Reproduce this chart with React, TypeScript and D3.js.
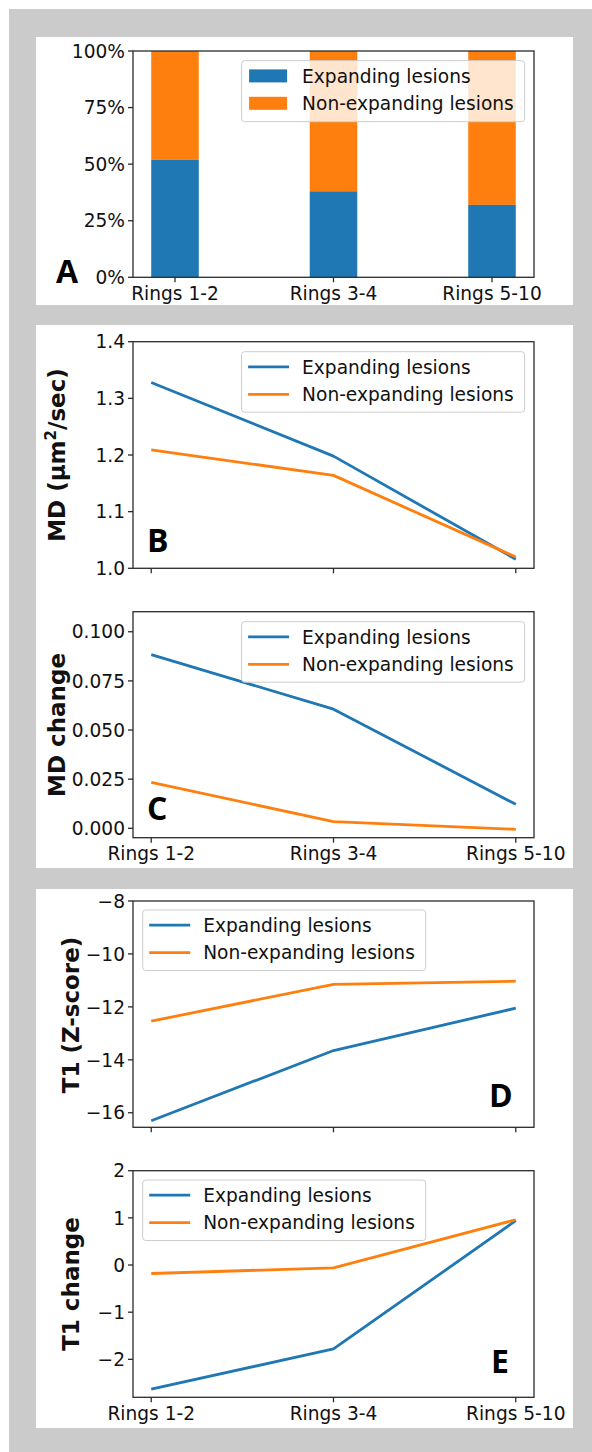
import React from "react";
import * as d3 from "d3";

const categories = ["Rings 1-2", "Rings 3-4", "Rings 5-10"];
const seriesNames = ["Expanding lesions", "Non-expanding lesions"];
const seriesColors = ["#1f77b4", "#ff7f0e"];

const expandingShare = [0.52, 0.38, 0.32];

const mdExpanding = [1.328, 1.198, 1.016];
const mdNonExpanding = [1.209, 1.164, 1.02];

const mdChangeExpanding = [0.0884, 0.0606, 0.0122];
const mdChangeNonExpanding = [0.0234, 0.0034, -0.0005];

const t1Expanding = [-16.3, -13.65, -12.05];
const t1NonExpanding = [-12.54, -11.15, -11.03];

const t1ChangeExpanding = [-2.63, -1.78, 0.94];
const t1ChangeNonExpanding = [-0.18, -0.06, 0.96];

const pctTicks = [0, 0.25, 0.5, 0.75, 1];
const mdTicks = [1.0, 1.1, 1.2, 1.3, 1.4];
const mdChangeTicks = [0, 0.025, 0.05, 0.075, 0.1];
const t1Ticks = [-16, -14, -12, -10, -8];
const t1ChangeTicks = [-2, -1, 0, 1, 2];

const FONT = "'DejaVu Sans', sans-serif";
const LABEL_FONT = "'Liberation Sans Narrow', 'Open Sans', 'Liberation Sans', sans-serif";
const AX = "#2b2b2b";
const PL = 133;
const PR = 534;
const TICK_FS = 18.6;
const LEG_FS = 18.6;

type LegendProps = { x: number; y: number; w: number; h: number; kind: "rect" | "line" };

function Legend({ x, y, w, h, kind }: LegendProps) {
  return (
    <g>
      <rect x={x} y={y} width={w} height={h} rx={3} fill="white" fillOpacity={0.8} stroke="#cccccc" strokeWidth={1} />
      {seriesNames.map((name, i) => {
        const cy = y + 15.2 + i * 27.4;
        return (
          <g key={name}>
            {kind === "rect" ? (
              <rect x={x + 7.5} y={cy - 6.5} width={38} height={13} fill={seriesColors[i]} />
            ) : (
              <line x1={x + 6.5} x2={x + 47.5} y1={cy} y2={cy} stroke={seriesColors[i]} strokeWidth={2.8} />
            )}
            <text x={x + 60.5} y={cy} dy="0.36em" fontSize={LEG_FS} fontFamily={FONT} fill="#111">
              {name}
            </text>
          </g>
        );
      })}
    </g>
  );
}

type YAxisProps = {
  y: d3.ScaleLinear<number, number>;
  ticks: number[];
  fmt: (v: number) => string;
};

function YAxis({ y, ticks, fmt }: YAxisProps) {
  return (
    <g>
      {ticks.map((t) => (
        <g key={t}>
          <line x1={PL - 5} x2={PL} y1={y(t)} y2={y(t)} stroke={AX} strokeWidth={1.3} />
          <text x={PL - 8} y={y(t)} dy="0.36em" textAnchor="end" fontSize={TICK_FS} fontFamily={FONT} fill="#111">
            {fmt(t)}
          </text>
        </g>
      ))}
    </g>
  );
}

type XAxisProps = {
  x: (i: number) => number;
  bottom: number;
  showLabels: boolean;
};

function XAxis({ x, bottom, showLabels }: XAxisProps) {
  return (
    <g>
      {categories.map((c, i) => (
        <g key={c}>
          <line x1={x(i)} x2={x(i)} y1={bottom} y2={bottom + 5} stroke={AX} strokeWidth={1.3} />
          {showLabels && (
            <text x={x(i)} y={bottom + 16} dy="0.36em" textAnchor="middle" fontSize={TICK_FS} fontFamily={FONT} fill="#111">
              {c}
            </text>
          )}
        </g>
      ))}
    </g>
  );
}

function Frame({ top, bottom }: { top: number; bottom: number }) {
  return <rect x={PL} y={top} width={PR - PL} height={bottom - top} fill="none" stroke={AX} strokeWidth={1.3} />;
}

function YLabel({ x, cy, children }: { x: number; cy: number; children: React.ReactNode }) {
  return (
    <text
      transform={`translate(${x},${cy}) rotate(-90)`}
      textAnchor="middle"
      fontSize={23}
      fontWeight="bold"
      fontFamily={FONT}
      fill="#111"
    >
      {children}
    </text>
  );
}

function PanelLetter({ x, y, t }: { x: number; y: number; t: string }) {
  return (
    <text x={x} y={y} fontSize={32} fontWeight="bold" fontFamily={LABEL_FONT} fill="#000">
      {t}
    </text>
  );
}

type LinePanelProps = {
  top: number;
  bottom: number;
  domain: [number, number];
  ticks: number[];
  fmt: (v: number) => string;
  a: number[];
  b: number[];
  legend: { x: number; y: number };
  showLabels: boolean;
};

function LinePanel({ top, bottom, domain, ticks, fmt, a, b, legend, showLabels }: LinePanelProps) {
  const x = d3.scaleLinear().domain([-0.1, 2.1]).range([PL, PR]);
  const y = d3.scaleLinear().domain(domain).range([bottom, top]);
  const line = d3
    .line<number>()
    .x((_, i) => x(i))
    .y((d) => y(d));
  return (
    <g>
      <defs>
        <clipPath id={`clip-${top}`}>
          <rect x={PL} y={top} width={PR - PL} height={bottom - top} />
        </clipPath>
      </defs>
      <g clipPath={`url(#clip-${top})`}>
        {[a, b].map((s, i) => (
          <path key={i} d={line(s) || ""} fill="none" stroke={seriesColors[i]} strokeWidth={2.8} strokeLinejoin="round" />
        ))}
      </g>
      <Legend x={legend.x} y={legend.y} w={283} h={60.5} kind="line" />
      <Frame top={top} bottom={bottom} />
      <YAxis y={y} ticks={ticks} fmt={fmt} />
      <XAxis x={(i) => x(i)} bottom={bottom} showLabels={showLabels} />
    </g>
  );
}

function BarPanel() {
  const top = 51;
  const bottom = 277.3;
  const x = d3.scaleLinear().domain([-0.265, 2.265]).range([PL, PR]);
  const y = d3.scaleLinear().domain([0, 1]).range([bottom, top]);
  const bw = x(0.3) - x(0);
  return (
    <g>
      {expandingShare.map((v, i) => (
        <g key={i}>
          <rect x={x(i) - bw / 2} y={y(1)} width={bw} height={y(v) - y(1)} fill={seriesColors[1]} />
          <rect x={x(i) - bw / 2} y={y(v)} width={bw} height={y(0) - y(v)} fill={seriesColors[0]} />
        </g>
      ))}
      <Legend x={241.6} y={60.7} w={283} h={61} kind="rect" />
      <Frame top={top} bottom={bottom} />
      <YAxis y={y} ticks={pctTicks} fmt={d3.format(".0%")} />
      <XAxis x={(i) => x(i)} bottom={bottom} showLabels={true} />
    </g>
  );
}

export default function App() {
  const f1 = d3.format(".1f");
  const f3 = d3.format(".3f");
  const fi = d3.format("d");
  return (
    <svg
      width={592}
      height={1452}
      viewBox="0 0 592 1452"
      style={{ position: "absolute", left: 0, top: 0, display: "block" }}
    >
      <rect x={0} y={0} width={592} height={1452} fill="white" />
      <rect x={9} y={9} width={583} height={1443} fill="#cbcbcb" />
      <rect x={36} y={37} width={537} height={268} fill="white" />
      <rect x={36} y={325} width={537} height={543} fill="white" />
      <rect x={36} y={889} width={537} height={539} fill="white" />

      <BarPanel />
      <PanelLetter x={56} y={283} t="A" />

      <LinePanel
        top={341.7}
        bottom={568.3}
        domain={[1.0, 1.4]}
        ticks={mdTicks}
        fmt={f1}
        a={mdExpanding}
        b={mdNonExpanding}
        legend={{ x: 241.6, y: 351.7 }}
        showLabels={false}
      />
      <YLabel x={65} cy={455}>
        <tspan>MD (μm</tspan>
        <tspan fontSize={15} dy={-9}>2</tspan>
        <tspan dy={9}>/sec)</tspan>
      </YLabel>
      <PanelLetter x={147} y={552} t="B" />

      <LinePanel
        top={611.7}
        bottom={837.7}
        domain={[-0.00478, 0.1102]}
        ticks={mdChangeTicks}
        fmt={f3}
        a={mdChangeExpanding}
        b={mdChangeNonExpanding}
        legend={{ x: 241.6, y: 621.7 }}
        showLabels={true}
      />
      <YLabel x={65} cy={725}>MD change</YLabel>
      <PanelLetter x={147} y={820} t="C" />

      <LinePanel
        top={901}
        bottom={1127.3}
        domain={[-16.55, -8]}
        ticks={t1Ticks}
        fmt={fi}
        a={t1Expanding}
        b={t1NonExpanding}
        legend={{ x: 142.7, y: 910 }}
        showLabels={false}
      />
      <YLabel x={79} cy={1015}>T1 (Z-score)</YLabel>
      <PanelLetter x={489} y={1106.7} t="D" />

      <LinePanel
        top={1170.7}
        bottom={1397.3}
        domain={[-2.805, 2]}
        ticks={t1ChangeTicks}
        fmt={fi}
        a={t1ChangeExpanding}
        b={t1ChangeNonExpanding}
        legend={{ x: 142.7, y: 1180 }}
        showLabels={true}
      />
      <YLabel x={79} cy={1284}>T1 change</YLabel>
      <PanelLetter x={491} y={1372.7} t="E" />
    </svg>
  );
}
